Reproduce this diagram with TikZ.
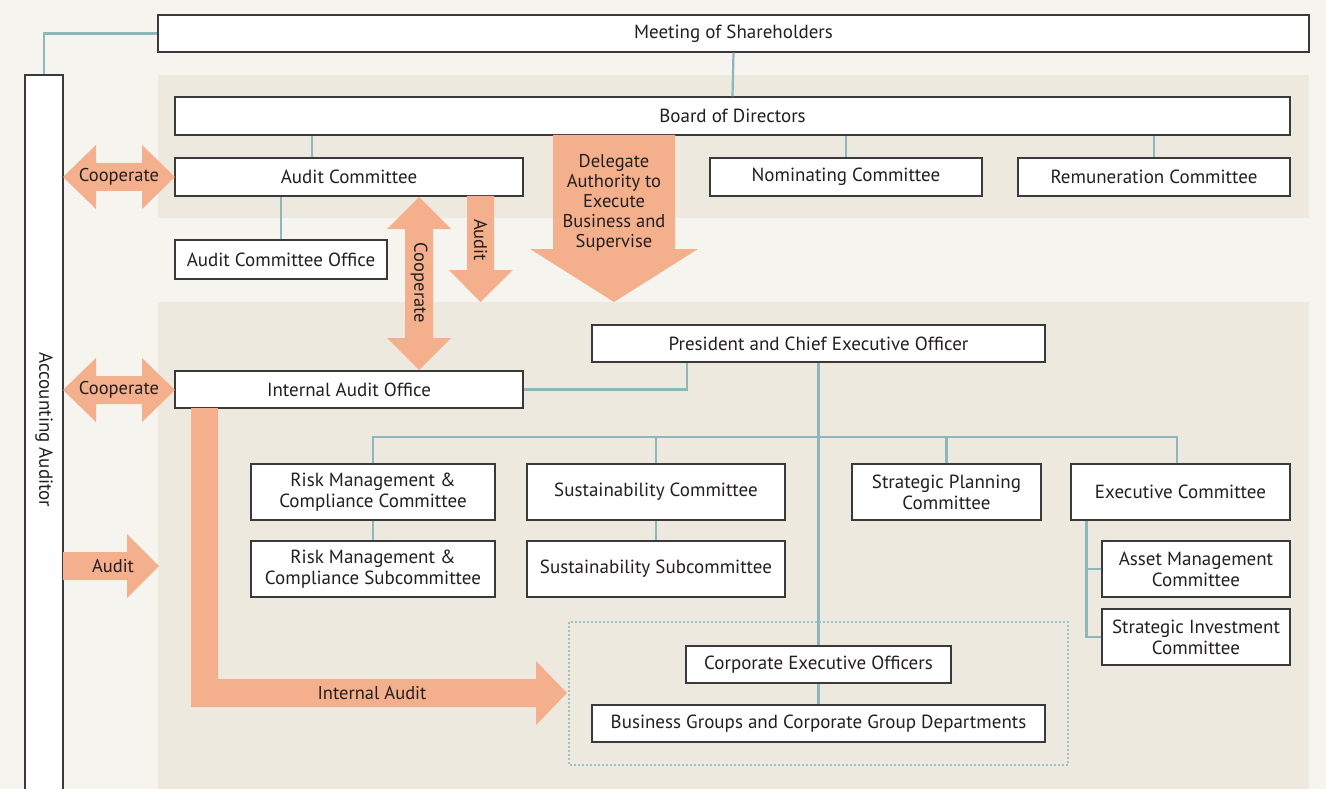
\documentclass[tikz,border=0pt]{standalone}
\usepackage{fontspec}
\setmainfont{PT Sans}
\definecolor{pagebg}{HTML}{F5F4EF}
\definecolor{panelbg}{HTML}{EDE9DF}
\definecolor{arrowc}{HTML}{F4AF8D}
\definecolor{linec}{HTML}{8DB6BD}
\definecolor{dotc}{HTML}{9CC3C3}
\definecolor{boxc}{HTML}{3A3A3A}
\definecolor{txtc}{HTML}{231F20}
\begin{document}
\begin{tikzpicture}[x=1pt,y=-1pt,
  box/.style={draw=boxc, fill=white, line width=1.1pt, inner sep=0pt, align=center,
    text=txtc, font=\fontsize{19}{21}\selectfont},
  conn/.style={draw=linec, line width=2.2pt},
  arr/.style={fill=arrowc},
  albl/.style={text=txtc, font=\fontsize{18.5}{20}\selectfont, inner sep=0pt, align=center}]
\useasboundingbox (0,0) rectangle (1326,789);
\fill[pagebg] (0,0) rectangle (1326,789);
\fill[panelbg] (158,75) rectangle (1309,218);
\fill[panelbg] (158,302) rectangle (1309,789);

% boxes
\node[box, minimum width=1151pt, minimum height=37pt] (ms) at (733.5,33.5) {Meeting of Shareholders};
\node[box, minimum width=38pt, minimum height=725pt] (aa) at (44,437.5) {};
\node[text=txtc, font=\fontsize{19}{21}\selectfont, rotate=-90, inner sep=0pt] (aat) at (44,430) {Accounting Auditor};
\node[box, minimum width=1115pt, minimum height=38pt] (bd) at (732.5,116) {Board of Directors};
\node[box, minimum width=348pt, minimum height=38pt] (ac) at (349,177) {Audit Committee};
\node[box, minimum width=272pt, minimum height=38pt] (nc) at (846,177) {Nominating Committee};
\node[box, minimum width=272pt, minimum height=38pt] (rc) at (1154,177) {Remuneration Committee};
\node[box, minimum width=212pt, minimum height=39pt] (aco) at (281,259.5) {Audit Committee Office};
\node[box, minimum width=453pt, minimum height=37pt] (ceo) at (818.5,343.5) {President and Chief Executive Officer};
\node[box, minimum width=348pt, minimum height=37pt] (iao) at (349,389.5) {Internal Audit Office};
\node[box, minimum width=244pt, minimum height=56pt] (rmc) at (373,492) {Risk Management \&\\Compliance Committee};
\node[box, minimum width=244pt, minimum height=56pt] (rms) at (373,569) {Risk Management \&\\Compliance Subcommittee};
\node[box, minimum width=258pt, minimum height=56pt] (sc) at (656,492) {Sustainability Committee};
\node[box, minimum width=258pt, minimum height=56pt] (ss) at (656,569) {Sustainability Subcommittee};
\node[box, minimum width=189pt, minimum height=56pt] (spc) at (946.5,492) {Strategic Planning\\Committee};
\node[box, minimum width=219pt, minimum height=56pt] (ec) at (1180.5,492) {Executive Committee};
\node[box, minimum width=188pt, minimum height=56pt] (amc) at (1196,569) {Asset Management\\Committee};
\node[box, minimum width=188pt, minimum height=56pt] (sic) at (1196,637) {Strategic Investment\\Committee};
\draw[dotc, line width=2pt, dotted] (569,622) rectangle (1068,765);
\node[box, minimum width=265pt, minimum height=37pt] (ceo2) at (818.5,664.5) {Corporate Executive Officers};
\node[box, minimum width=453pt, minimum height=37pt] (bg) at (818.5,723.5) {Business Groups and Corporate Group Departments};

% connectors
\draw[conn] (ms.west) -| (aa.north);
\draw[conn] (ms.south) -- (bd.north);
\draw[conn] ([xshift=-37pt]ac.north) -- ([xshift=-37pt]ac.north |- bd.south);
\draw[conn] (nc.north) -- (nc.north |- bd.south);
\draw[conn] (rc.north) -- (rc.north |- bd.south);
\draw[conn] (aco.north) -- (aco.north |- ac.south);
\draw[conn] (iao.east) -| ([xshift=-131.5pt]ceo.south);
\draw[conn] (ceo.south) -- (ceo2.north);
\coordinate (br) at (818.5,437);
\coordinate (ect) at ([xshift=-3.5pt]ec.north);
\draw[conn] (rmc.north) |- (br) -| (ect);
\draw[conn] (sc.north) -- (sc.north |- br);
\draw[conn] (spc.north) -- (spc.north |- br);
\draw[conn] (rmc.south) -- (rms.north);
\draw[conn] (sc.south) -- (ss.north);
\draw[conn] (ceo2.south) -- (bg.north);
\coordinate (et) at ([xshift=16pt]ec.south west);
\draw[conn] (et) |- (sic.west);
\draw[conn] (amc.west) -- (amc.west -| et);

% arrows
\fill[arr] (63,177) -- (96,145) -- (96,163) -- (142,163) -- (142,145) -- (175,177) -- (142,209) -- (142,191) -- (96,191) -- (96,209) -- cycle;
\node[albl] (coop1) at (119,177) {Cooperate};
\fill[arr] (63,390) -- (96,358) -- (96,376) -- (142,376) -- (142,358) -- (175,390) -- (142,422) -- (142,404) -- (96,404) -- (96,422) -- cycle;
\node[albl] (coop2) at (119,390) {Cooperate};
\fill[arr] (419,197) -- (451,229) -- (433,229) -- (433,338) -- (451,338) -- (419,370) -- (387,338) -- (405,338) -- (405,229) -- (387,229) -- cycle;
\node[albl, rotate=-90] (coop3) at (419,283) {Cooperate};
\fill[arr] (467,196) -- (494,196) -- (494,270) -- (513,270) -- (480.5,302) -- (449,270) -- (467,270) -- cycle;
\node[albl, rotate=-90] (aud1) at (480.5,240) {Audit};
\fill[arr] (553,135) -- (675,135) -- (675,249) -- (698,249) -- (614,302) -- (530,249) -- (553,249) -- cycle;
\node[albl] (dlg) at (614,203) {Delegate\\Authority to\\Execute\\Business and\\Supervise};
\fill[arr] (63,552) -- (127,552) -- (127,534) -- (159,566) -- (127,598) -- (127,580) -- (63,580) -- cycle;
\node[albl] (aud2) at (113,566) {Audit};
\fill[arr] (191,408) -- (218,408) -- (218,679) -- (536,679) -- (536,661) -- (567,693) -- (536,725) -- (536,707) -- (191,707) -- cycle;
\node[albl] (ia) at (372,693) {Internal Audit};
\end{tikzpicture}
\end{document}
